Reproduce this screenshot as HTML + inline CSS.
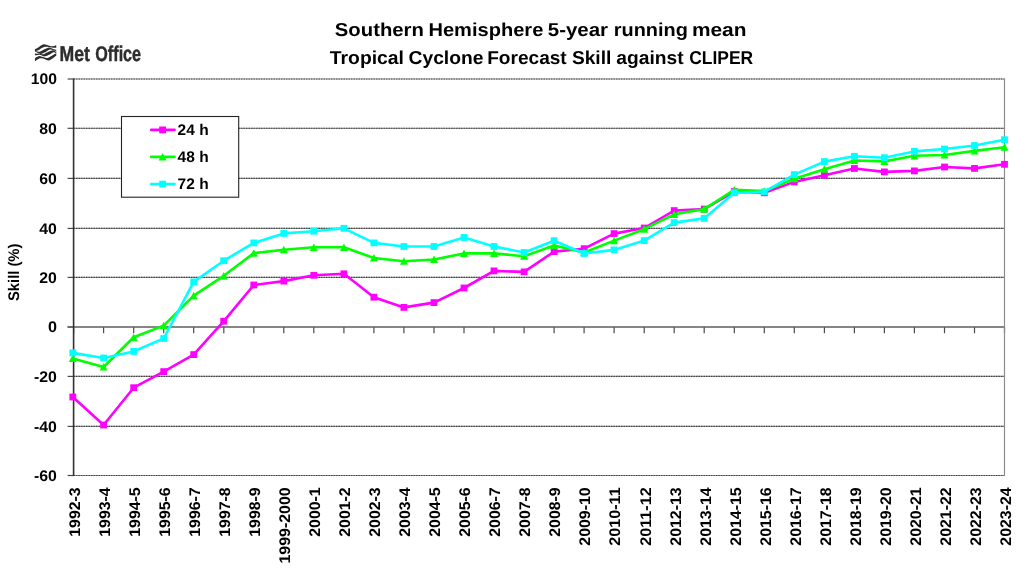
<!DOCTYPE html>
<html lang="en"><head><meta charset="utf-8"><title>Southern Hemisphere Tropical Cyclone Forecast Skill against CLIPER</title>
<style>html,body{margin:0;padding:0;background:#fff;}body{width:1024px;height:575px;overflow:hidden;}svg{display:block;}text{font-family:"Liberation Sans",sans-serif;font-weight:bold;fill:#000;text-rendering:geometricPrecision;}</style></head><body>
<svg width="1024" height="575" viewBox="0 0 1024 575">
<rect width="1024" height="575" fill="#fff"/>
<text y="36.3" font-size="18.7"><tspan x="334.82" textLength="89.04" lengthAdjust="spacingAndGlyphs">Southern</tspan> <tspan x="428.44" textLength="114.86" lengthAdjust="spacingAndGlyphs">Hemisphere</tspan> <tspan x="547.81" textLength="60.27" lengthAdjust="spacingAndGlyphs">5-year</tspan> <tspan x="613.74" textLength="74.13" lengthAdjust="spacingAndGlyphs">running</tspan> <tspan x="691.92" textLength="54.53" lengthAdjust="spacingAndGlyphs">mean</tspan></text>
<text y="64.2" font-size="18.7"><tspan x="329.89" textLength="74.04" lengthAdjust="spacingAndGlyphs">Tropical</tspan> <tspan x="408.57" textLength="74.88" lengthAdjust="spacingAndGlyphs">Cyclone</tspan> <tspan x="487.18" textLength="79.54" lengthAdjust="spacingAndGlyphs">Forecast</tspan> <tspan x="571.93" textLength="39.41" lengthAdjust="spacingAndGlyphs">Skill</tspan> <tspan x="616.29" textLength="67.29" lengthAdjust="spacingAndGlyphs">against</tspan> <tspan x="689.17" textLength="64.00" lengthAdjust="spacingAndGlyphs">CLIPER</tspan></text>
<g id="logo" fill="#2d2d2d">
<path d="M34.92 49.28 C35.28 49.11 36.38 48.67 37.11 48.25 C37.84 47.83 38.51 47.30 39.30 46.77 C40.09 46.24 41.06 45.47 41.85 45.06 C42.64 44.64 43.31 44.31 44.04 44.28 C44.77 44.25 45.50 44.65 46.23 44.87 C46.96 45.10 47.51 45.38 48.42 45.62 C49.34 45.86 50.73 46.24 51.71 46.32 C52.68 46.41 53.50 46.27 54.26 46.11 C55.02 45.94 55.94 45.46 56.27 45.33 L56.27 47.79 C55.94 47.79 55.02 47.79 54.26 47.75 C53.50 47.70 52.68 47.66 51.71 47.53 C50.73 47.40 49.34 47.11 48.42 46.99 C47.51 46.87 46.96 46.79 46.23 46.79 C45.50 46.79 44.77 46.81 44.04 47.02 C43.31 47.23 42.64 47.61 41.85 48.07 C41.06 48.53 40.09 49.34 39.30 49.78 C38.51 50.22 37.84 50.52 37.11 50.71 C36.38 50.90 35.28 50.89 34.92 50.92 Z"/>
<path d="M34.92 50.63 C35.35 50.77 36.65 51.26 37.47 51.43 C38.30 51.61 39.12 51.79 39.85 51.67 C40.58 51.55 41.09 51.10 41.85 50.71 C42.61 50.33 43.56 49.78 44.41 49.35 C45.26 48.93 46.17 48.48 46.96 48.16 C47.75 47.83 48.48 47.45 49.15 47.41 C49.82 47.37 50.31 47.66 50.98 47.93 C51.65 48.21 52.29 48.74 53.17 49.06 C54.05 49.39 55.75 49.75 56.27 49.89 L56.27 51.26 C55.75 51.10 54.05 50.55 53.17 50.27 C52.29 49.99 51.65 49.64 50.98 49.57 C50.31 49.51 49.82 49.61 49.15 49.87 C48.48 50.14 47.75 50.73 46.96 51.17 C46.17 51.61 45.26 52.10 44.41 52.53 C43.56 52.95 42.61 53.50 41.85 53.72 C41.09 53.95 40.58 54.04 39.85 53.86 C39.12 53.68 38.30 53.01 37.47 52.64 C36.65 52.26 35.35 51.79 34.92 51.62 Z"/>
<path d="M34.92 53.45 C35.22 53.48 36.01 53.60 36.74 53.64 C37.47 53.69 38.45 53.65 39.30 53.73 C40.15 53.82 41.12 54.08 41.85 54.17 C42.58 54.26 43.01 54.46 43.68 54.28 C44.35 54.10 45.08 53.50 45.87 53.09 C46.66 52.67 47.57 52.21 48.42 51.80 C49.27 51.39 50.25 50.91 50.98 50.64 C51.71 50.37 52.26 50.16 52.80 50.16 C53.35 50.16 53.68 50.34 54.26 50.65 C54.84 50.96 55.94 51.81 56.27 52.04 L56.27 53.13 C55.94 52.97 54.84 52.30 54.26 52.18 C53.68 52.07 53.35 52.21 52.80 52.46 C52.26 52.70 51.71 53.23 50.98 53.65 C50.25 54.07 49.27 54.57 48.42 54.97 C47.57 55.38 46.66 55.87 45.87 56.10 C45.08 56.33 44.35 56.48 43.68 56.36 C43.01 56.24 42.58 55.65 41.85 55.38 C41.12 55.10 40.15 54.75 39.30 54.72 C38.45 54.69 37.47 55.07 36.74 55.18 C36.01 55.28 35.22 55.33 34.92 55.37 Z"/>
<path d="M34.92 58.51 C35.22 58.28 36.01 57.50 36.74 57.10 C37.47 56.70 38.45 56.17 39.30 56.10 C40.15 56.03 41.00 56.47 41.85 56.69 C42.71 56.91 43.62 57.22 44.41 57.42 C45.20 57.62 45.93 57.82 46.60 57.88 C47.27 57.94 47.69 58.05 48.42 57.78 C49.15 57.52 50.13 56.80 50.98 56.29 C51.83 55.78 52.65 55.22 53.53 54.73 C54.41 54.24 55.81 53.59 56.27 53.36 L56.27 55.82 C55.81 56.14 54.41 57.13 53.53 57.74 C52.65 58.35 51.83 59.00 50.98 59.46 C50.13 59.93 49.15 60.42 48.42 60.52 C47.69 60.62 47.27 60.31 46.60 60.07 C45.93 59.82 45.20 59.35 44.41 59.06 C43.62 58.77 42.71 58.42 41.85 58.33 C41.00 58.25 40.15 58.26 39.30 58.56 C38.45 58.86 37.47 59.66 36.74 60.11 C36.01 60.56 35.22 61.06 34.92 61.25 Z"/>
<text y="60.9" font-size="21.3" style="fill:#2d2d2d;stroke:#2d2d2d;stroke-width:0.45px"><tspan x="59.6" textLength="30.4" lengthAdjust="spacingAndGlyphs">Met</tspan> <tspan x="95.3" textLength="45.8" lengthAdjust="spacingAndGlyphs">Office</tspan></text>
</g>
<g id="gridbase" stroke="#949494" stroke-width="1.15" fill="none">
<line x1="73.6" y1="79.00" x2="1004.5" y2="79.00"/>
<line x1="73.6" y1="128.30" x2="1004.5" y2="128.30"/>
<line x1="73.6" y1="178.40" x2="1004.5" y2="178.40"/>
<line x1="73.6" y1="228.40" x2="1004.5" y2="228.40"/>
<line x1="73.6" y1="277.40" x2="1004.5" y2="277.40"/>
<line x1="73.6" y1="376.40" x2="1004.5" y2="376.40"/>
<line x1="73.6" y1="426.40" x2="1004.5" y2="426.40"/>
<line x1="73.6" y1="475.50" x2="1004.5" y2="475.50"/>
</g>
<g id="grid" stroke="#3a3a3a" stroke-width="1.1" stroke-dasharray="1.25 1.25" fill="none">
<line x1="73.6" y1="79.00" x2="1004.5" y2="79.00"/>
<line x1="73.6" y1="128.30" x2="1004.5" y2="128.30"/>
<line x1="73.6" y1="178.40" x2="1004.5" y2="178.40"/>
<line x1="73.6" y1="228.40" x2="1004.5" y2="228.40"/>
<line x1="73.6" y1="277.40" x2="1004.5" y2="277.40"/>
<line x1="73.6" y1="376.40" x2="1004.5" y2="376.40"/>
<line x1="73.6" y1="426.40" x2="1004.5" y2="426.40"/>
<line x1="73.6" y1="475.50" x2="1004.5" y2="475.50"/>
</g>
<g id="ticks" stroke="#4a4a4a" stroke-width="1.2" fill="none">
<line x1="67.6" y1="79.00" x2="73.6" y2="79.00"/>
<line x1="67.6" y1="128.30" x2="73.6" y2="128.30"/>
<line x1="67.6" y1="178.40" x2="73.6" y2="178.40"/>
<line x1="67.6" y1="228.40" x2="73.6" y2="228.40"/>
<line x1="67.6" y1="277.40" x2="73.6" y2="277.40"/>
<line x1="67.6" y1="327.00" x2="73.6" y2="327.00"/>
<line x1="67.6" y1="376.40" x2="73.6" y2="376.40"/>
<line x1="67.6" y1="426.40" x2="73.6" y2="426.40"/>
<line x1="67.6" y1="475.50" x2="73.6" y2="475.50"/>
<line x1="73.6" y1="327.00" x2="73.6" y2="333.20"/>
<line x1="103.6" y1="327.00" x2="103.6" y2="333.20"/>
<line x1="133.7" y1="327.00" x2="133.7" y2="333.20"/>
<line x1="163.7" y1="327.00" x2="163.7" y2="333.20"/>
<line x1="193.7" y1="327.00" x2="193.7" y2="333.20"/>
<line x1="223.8" y1="327.00" x2="223.8" y2="333.20"/>
<line x1="253.8" y1="327.00" x2="253.8" y2="333.20"/>
<line x1="283.8" y1="327.00" x2="283.8" y2="333.20"/>
<line x1="313.8" y1="327.00" x2="313.8" y2="333.20"/>
<line x1="343.9" y1="327.00" x2="343.9" y2="333.20"/>
<line x1="373.9" y1="327.00" x2="373.9" y2="333.20"/>
<line x1="403.9" y1="327.00" x2="403.9" y2="333.20"/>
<line x1="434.0" y1="327.00" x2="434.0" y2="333.20"/>
<line x1="464.0" y1="327.00" x2="464.0" y2="333.20"/>
<line x1="494.0" y1="327.00" x2="494.0" y2="333.20"/>
<line x1="524.1" y1="327.00" x2="524.1" y2="333.20"/>
<line x1="554.1" y1="327.00" x2="554.1" y2="333.20"/>
<line x1="584.1" y1="327.00" x2="584.1" y2="333.20"/>
<line x1="614.1" y1="327.00" x2="614.1" y2="333.20"/>
<line x1="644.2" y1="327.00" x2="644.2" y2="333.20"/>
<line x1="674.2" y1="327.00" x2="674.2" y2="333.20"/>
<line x1="704.2" y1="327.00" x2="704.2" y2="333.20"/>
<line x1="734.3" y1="327.00" x2="734.3" y2="333.20"/>
<line x1="764.3" y1="327.00" x2="764.3" y2="333.20"/>
<line x1="794.3" y1="327.00" x2="794.3" y2="333.20"/>
<line x1="824.4" y1="327.00" x2="824.4" y2="333.20"/>
<line x1="854.4" y1="327.00" x2="854.4" y2="333.20"/>
<line x1="884.4" y1="327.00" x2="884.4" y2="333.20"/>
<line x1="914.4" y1="327.00" x2="914.4" y2="333.20"/>
<line x1="944.5" y1="327.00" x2="944.5" y2="333.20"/>
<line x1="974.5" y1="327.00" x2="974.5" y2="333.20"/>
<line x1="1004.5" y1="327.00" x2="1004.5" y2="333.20"/>
</g>
<line x1="67.6" y1="327.00" x2="1004.5" y2="327.00" stroke="#5e5e5e" stroke-width="1.6"/>
<line x1="73.6" y1="78.40" x2="73.6" y2="476.10" stroke="#303030" stroke-width="1.6"/>
<line x1="1004.5" y1="78.40" x2="1004.5" y2="476.10" stroke="#8c8c8c" stroke-width="1.2"/>
<text x="30.7" y="84.4" font-size="15.4" textLength="26.2" lengthAdjust="spacingAndGlyphs">100</text>
<text x="39.3" y="133.7" font-size="15.4" textLength="17.6" lengthAdjust="spacingAndGlyphs">80</text>
<text x="39.3" y="183.8" font-size="15.4" textLength="17.6" lengthAdjust="spacingAndGlyphs">60</text>
<text x="39.3" y="233.8" font-size="15.4" textLength="17.6" lengthAdjust="spacingAndGlyphs">40</text>
<text x="39.3" y="282.8" font-size="15.4" textLength="17.6" lengthAdjust="spacingAndGlyphs">20</text>
<text x="47.9" y="332.4" font-size="15.4" textLength="9.0" lengthAdjust="spacingAndGlyphs">0</text>
<text x="34.0" y="381.8" font-size="15.4" textLength="22.9" lengthAdjust="spacingAndGlyphs">-20</text>
<text x="34.0" y="431.8" font-size="15.4" textLength="22.9" lengthAdjust="spacingAndGlyphs">-40</text>
<text x="34.0" y="480.9" font-size="15.4" textLength="22.9" lengthAdjust="spacingAndGlyphs">-60</text>
<text transform="translate(18.5 301.0) rotate(-90)" font-size="15.4" textLength="57.4" lengthAdjust="spacingAndGlyphs">Skill (%)</text>
<text transform="translate(79.5 536.8) rotate(-90)" font-size="15.4" textLength="49.5" lengthAdjust="spacingAndGlyphs">1992-3</text>
<text transform="translate(109.5 536.8) rotate(-90)" font-size="15.4" textLength="49.5" lengthAdjust="spacingAndGlyphs">1993-4</text>
<text transform="translate(139.6 536.8) rotate(-90)" font-size="15.4" textLength="49.5" lengthAdjust="spacingAndGlyphs">1994-5</text>
<text transform="translate(169.7 536.8) rotate(-90)" font-size="15.4" textLength="49.5" lengthAdjust="spacingAndGlyphs">1995-6</text>
<text transform="translate(199.7 536.8) rotate(-90)" font-size="15.4" textLength="49.5" lengthAdjust="spacingAndGlyphs">1996-7</text>
<text transform="translate(229.8 536.8) rotate(-90)" font-size="15.4" textLength="49.5" lengthAdjust="spacingAndGlyphs">1997-8</text>
<text transform="translate(259.8 536.8) rotate(-90)" font-size="15.4" textLength="49.5" lengthAdjust="spacingAndGlyphs">1998-9</text>
<text transform="translate(289.8 563.5) rotate(-90)" font-size="15.4" textLength="76.2" lengthAdjust="spacingAndGlyphs">1999-2000</text>
<text transform="translate(319.9 536.8) rotate(-90)" font-size="15.4" textLength="49.5" lengthAdjust="spacingAndGlyphs">2000-1</text>
<text transform="translate(349.9 536.8) rotate(-90)" font-size="15.4" textLength="49.5" lengthAdjust="spacingAndGlyphs">2001-2</text>
<text transform="translate(380.0 536.8) rotate(-90)" font-size="15.4" textLength="49.5" lengthAdjust="spacingAndGlyphs">2002-3</text>
<text transform="translate(410.1 536.8) rotate(-90)" font-size="15.4" textLength="49.5" lengthAdjust="spacingAndGlyphs">2003-4</text>
<text transform="translate(440.1 536.8) rotate(-90)" font-size="15.4" textLength="49.5" lengthAdjust="spacingAndGlyphs">2004-5</text>
<text transform="translate(470.1 536.8) rotate(-90)" font-size="15.4" textLength="49.5" lengthAdjust="spacingAndGlyphs">2005-6</text>
<text transform="translate(500.2 536.8) rotate(-90)" font-size="15.4" textLength="49.5" lengthAdjust="spacingAndGlyphs">2006-7</text>
<text transform="translate(530.2 536.8) rotate(-90)" font-size="15.4" textLength="49.5" lengthAdjust="spacingAndGlyphs">2007-8</text>
<text transform="translate(560.3 536.8) rotate(-90)" font-size="15.4" textLength="49.5" lengthAdjust="spacingAndGlyphs">2008-9</text>
<text transform="translate(590.4 545.7) rotate(-90)" font-size="15.4" textLength="58.4" lengthAdjust="spacingAndGlyphs">2009-10</text>
<text transform="translate(620.4 545.7) rotate(-90)" font-size="15.4" textLength="58.4" lengthAdjust="spacingAndGlyphs">2010-11</text>
<text transform="translate(650.5 545.7) rotate(-90)" font-size="15.4" textLength="58.4" lengthAdjust="spacingAndGlyphs">2011-12</text>
<text transform="translate(680.5 545.7) rotate(-90)" font-size="15.4" textLength="58.4" lengthAdjust="spacingAndGlyphs">2012-13</text>
<text transform="translate(710.5 545.7) rotate(-90)" font-size="15.4" textLength="58.4" lengthAdjust="spacingAndGlyphs">2013-14</text>
<text transform="translate(740.6 545.7) rotate(-90)" font-size="15.4" textLength="58.4" lengthAdjust="spacingAndGlyphs">2014-15</text>
<text transform="translate(770.7 545.7) rotate(-90)" font-size="15.4" textLength="58.4" lengthAdjust="spacingAndGlyphs">2015-16</text>
<text transform="translate(800.7 545.7) rotate(-90)" font-size="15.4" textLength="58.4" lengthAdjust="spacingAndGlyphs">2016-17</text>
<text transform="translate(830.8 545.7) rotate(-90)" font-size="15.4" textLength="58.4" lengthAdjust="spacingAndGlyphs">2017-18</text>
<text transform="translate(860.8 545.7) rotate(-90)" font-size="15.4" textLength="58.4" lengthAdjust="spacingAndGlyphs">2018-19</text>
<text transform="translate(890.9 545.7) rotate(-90)" font-size="15.4" textLength="58.4" lengthAdjust="spacingAndGlyphs">2019-20</text>
<text transform="translate(920.9 545.7) rotate(-90)" font-size="15.4" textLength="58.4" lengthAdjust="spacingAndGlyphs">2020-21</text>
<text transform="translate(951.0 545.7) rotate(-90)" font-size="15.4" textLength="58.4" lengthAdjust="spacingAndGlyphs">2021-22</text>
<text transform="translate(981.0 545.7) rotate(-90)" font-size="15.4" textLength="58.4" lengthAdjust="spacingAndGlyphs">2022-23</text>
<text transform="translate(1011.1 545.7) rotate(-90)" font-size="15.4" textLength="58.4" lengthAdjust="spacingAndGlyphs">2023-24</text>
<g id="s24"><polyline points="72.8,397.0 103.6,425.0 133.7,387.7 163.7,371.6 193.7,354.6 223.8,321.2 253.8,285.0 283.8,281.1 313.8,275.3 343.9,273.8 373.9,297.2 403.9,307.4 434.0,302.6 464.0,288.0 494.0,270.9 524.1,271.9 554.1,251.6 584.1,248.7 614.1,233.6 644.2,228.0 674.2,210.6 704.2,209.1 734.3,191.6 764.3,192.8 794.3,181.9 824.4,175.3 854.4,168.5 884.4,171.9 914.4,170.9 944.5,167.0 974.5,168.4 1004.5,164.3" fill="none" stroke="#ff00ff" stroke-width="2.6" stroke-linejoin="round" stroke-linecap="round"/>
<rect x="69.4" y="393.6" width="6.8" height="6.8" fill="#ff00ff"/>
<rect x="100.2" y="421.6" width="6.8" height="6.8" fill="#ff00ff"/>
<rect x="130.3" y="384.3" width="6.8" height="6.8" fill="#ff00ff"/>
<rect x="160.3" y="368.2" width="6.8" height="6.8" fill="#ff00ff"/>
<rect x="190.3" y="351.2" width="6.8" height="6.8" fill="#ff00ff"/>
<rect x="220.3" y="317.8" width="6.8" height="6.8" fill="#ff00ff"/>
<rect x="250.4" y="281.6" width="6.8" height="6.8" fill="#ff00ff"/>
<rect x="280.4" y="277.7" width="6.8" height="6.8" fill="#ff00ff"/>
<rect x="310.4" y="271.9" width="6.8" height="6.8" fill="#ff00ff"/>
<rect x="340.5" y="270.4" width="6.8" height="6.8" fill="#ff00ff"/>
<rect x="370.5" y="293.8" width="6.8" height="6.8" fill="#ff00ff"/>
<rect x="400.5" y="304.0" width="6.8" height="6.8" fill="#ff00ff"/>
<rect x="430.6" y="299.2" width="6.8" height="6.8" fill="#ff00ff"/>
<rect x="460.6" y="284.6" width="6.8" height="6.8" fill="#ff00ff"/>
<rect x="490.6" y="267.5" width="6.8" height="6.8" fill="#ff00ff"/>
<rect x="520.7" y="268.5" width="6.8" height="6.8" fill="#ff00ff"/>
<rect x="550.7" y="248.2" width="6.8" height="6.8" fill="#ff00ff"/>
<rect x="580.7" y="245.3" width="6.8" height="6.8" fill="#ff00ff"/>
<rect x="610.7" y="230.2" width="6.8" height="6.8" fill="#ff00ff"/>
<rect x="640.8" y="224.6" width="6.8" height="6.8" fill="#ff00ff"/>
<rect x="670.8" y="207.2" width="6.8" height="6.8" fill="#ff00ff"/>
<rect x="700.8" y="205.7" width="6.8" height="6.8" fill="#ff00ff"/>
<rect x="730.9" y="188.2" width="6.8" height="6.8" fill="#ff00ff"/>
<rect x="760.9" y="189.4" width="6.8" height="6.8" fill="#ff00ff"/>
<rect x="790.9" y="178.5" width="6.8" height="6.8" fill="#ff00ff"/>
<rect x="821.0" y="171.9" width="6.8" height="6.8" fill="#ff00ff"/>
<rect x="851.0" y="165.1" width="6.8" height="6.8" fill="#ff00ff"/>
<rect x="881.0" y="168.5" width="6.8" height="6.8" fill="#ff00ff"/>
<rect x="911.0" y="167.5" width="6.8" height="6.8" fill="#ff00ff"/>
<rect x="941.1" y="163.6" width="6.8" height="6.8" fill="#ff00ff"/>
<rect x="971.1" y="165.0" width="6.8" height="6.8" fill="#ff00ff"/>
<rect x="1001.1" y="160.9" width="6.8" height="6.8" fill="#ff00ff"/>
</g>
<g id="s48"><polyline points="72.8,358.5 103.6,367.0 133.7,337.3 163.7,325.6 193.7,295.7 223.8,275.8 253.8,253.1 283.8,249.7 313.8,247.3 343.9,247.3 373.9,258.0 403.9,261.2 434.0,259.5 464.0,253.4 494.0,253.4 524.1,256.2 554.1,245.6 584.1,252.5 614.1,240.6 644.2,229.2 674.2,214.3 704.2,209.1 734.3,189.9 764.3,191.1 794.3,178.7 824.4,169.2 854.4,160.5 884.4,161.4 914.4,155.8 944.5,155.0 974.5,150.9 1004.5,147.2" fill="none" stroke="#00ff00" stroke-width="2.6" stroke-linejoin="round" stroke-linecap="round"/>
<path d="M72.8 354.6 L76.8 362.1 L68.8 362.1 Z" fill="#00ff00"/>
<path d="M103.6 363.1 L107.6 370.6 L99.6 370.6 Z" fill="#00ff00"/>
<path d="M133.7 333.4 L137.7 340.9 L129.7 340.9 Z" fill="#00ff00"/>
<path d="M163.7 321.7 L167.7 329.2 L159.7 329.2 Z" fill="#00ff00"/>
<path d="M193.7 291.8 L197.7 299.3 L189.7 299.3 Z" fill="#00ff00"/>
<path d="M223.8 271.9 L227.8 279.4 L219.8 279.4 Z" fill="#00ff00"/>
<path d="M253.8 249.2 L257.8 256.7 L249.8 256.7 Z" fill="#00ff00"/>
<path d="M283.8 245.8 L287.8 253.3 L279.8 253.3 Z" fill="#00ff00"/>
<path d="M313.8 243.4 L317.8 250.9 L309.8 250.9 Z" fill="#00ff00"/>
<path d="M343.9 243.4 L347.9 250.9 L339.9 250.9 Z" fill="#00ff00"/>
<path d="M373.9 254.1 L377.9 261.6 L369.9 261.6 Z" fill="#00ff00"/>
<path d="M403.9 257.3 L407.9 264.8 L399.9 264.8 Z" fill="#00ff00"/>
<path d="M434.0 255.6 L438.0 263.1 L430.0 263.1 Z" fill="#00ff00"/>
<path d="M464.0 249.5 L468.0 257.0 L460.0 257.0 Z" fill="#00ff00"/>
<path d="M494.0 249.5 L498.0 257.0 L490.0 257.0 Z" fill="#00ff00"/>
<path d="M524.1 252.3 L528.1 259.8 L520.1 259.8 Z" fill="#00ff00"/>
<path d="M554.1 241.7 L558.1 249.2 L550.1 249.2 Z" fill="#00ff00"/>
<path d="M584.1 248.6 L588.1 256.1 L580.1 256.1 Z" fill="#00ff00"/>
<path d="M614.1 236.7 L618.1 244.2 L610.1 244.2 Z" fill="#00ff00"/>
<path d="M644.2 225.3 L648.2 232.8 L640.2 232.8 Z" fill="#00ff00"/>
<path d="M674.2 210.4 L678.2 217.9 L670.2 217.9 Z" fill="#00ff00"/>
<path d="M704.2 205.2 L708.2 212.7 L700.2 212.7 Z" fill="#00ff00"/>
<path d="M734.3 186.0 L738.3 193.5 L730.3 193.5 Z" fill="#00ff00"/>
<path d="M764.3 187.2 L768.3 194.7 L760.3 194.7 Z" fill="#00ff00"/>
<path d="M794.3 174.8 L798.3 182.3 L790.3 182.3 Z" fill="#00ff00"/>
<path d="M824.4 165.3 L828.4 172.8 L820.4 172.8 Z" fill="#00ff00"/>
<path d="M854.4 156.6 L858.4 164.1 L850.4 164.1 Z" fill="#00ff00"/>
<path d="M884.4 157.5 L888.4 165.0 L880.4 165.0 Z" fill="#00ff00"/>
<path d="M914.4 151.9 L918.4 159.4 L910.4 159.4 Z" fill="#00ff00"/>
<path d="M944.5 151.1 L948.5 158.6 L940.5 158.6 Z" fill="#00ff00"/>
<path d="M974.5 147.0 L978.5 154.5 L970.5 154.5 Z" fill="#00ff00"/>
<path d="M1004.5 143.3 L1008.5 150.8 L1000.5 150.8 Z" fill="#00ff00"/>
</g>
<g id="s72"><polyline points="72.8,352.9 103.6,358.0 133.7,351.4 163.7,338.5 193.7,281.9 223.8,260.7 253.8,242.9 283.8,233.4 313.8,231.2 343.9,228.3 373.9,242.9 403.9,246.5 434.0,246.5 464.0,237.5 494.0,246.5 524.1,252.5 554.1,240.7 584.1,253.5 614.1,249.9 644.2,240.6 674.2,222.6 704.2,218.4 734.3,192.8 764.3,191.9 794.3,174.6 824.4,161.6 854.4,156.3 884.4,157.7 914.4,151.4 944.5,149.0 974.5,145.5 1004.5,139.7" fill="none" stroke="#00ffff" stroke-width="2.6" stroke-linejoin="round" stroke-linecap="round"/>
<rect x="69.4" y="349.5" width="6.8" height="6.8" fill="#00ffff"/>
<rect x="100.2" y="354.6" width="6.8" height="6.8" fill="#00ffff"/>
<rect x="130.3" y="348.0" width="6.8" height="6.8" fill="#00ffff"/>
<rect x="160.3" y="335.1" width="6.8" height="6.8" fill="#00ffff"/>
<rect x="190.3" y="278.5" width="6.8" height="6.8" fill="#00ffff"/>
<rect x="220.3" y="257.3" width="6.8" height="6.8" fill="#00ffff"/>
<rect x="250.4" y="239.5" width="6.8" height="6.8" fill="#00ffff"/>
<rect x="280.4" y="230.0" width="6.8" height="6.8" fill="#00ffff"/>
<rect x="310.4" y="227.8" width="6.8" height="6.8" fill="#00ffff"/>
<rect x="340.5" y="224.9" width="6.8" height="6.8" fill="#00ffff"/>
<rect x="370.5" y="239.5" width="6.8" height="6.8" fill="#00ffff"/>
<rect x="400.5" y="243.1" width="6.8" height="6.8" fill="#00ffff"/>
<rect x="430.6" y="243.1" width="6.8" height="6.8" fill="#00ffff"/>
<rect x="460.6" y="234.1" width="6.8" height="6.8" fill="#00ffff"/>
<rect x="490.6" y="243.1" width="6.8" height="6.8" fill="#00ffff"/>
<rect x="520.7" y="249.1" width="6.8" height="6.8" fill="#00ffff"/>
<rect x="550.7" y="237.3" width="6.8" height="6.8" fill="#00ffff"/>
<rect x="580.7" y="250.1" width="6.8" height="6.8" fill="#00ffff"/>
<rect x="610.7" y="246.5" width="6.8" height="6.8" fill="#00ffff"/>
<rect x="640.8" y="237.2" width="6.8" height="6.8" fill="#00ffff"/>
<rect x="670.8" y="219.2" width="6.8" height="6.8" fill="#00ffff"/>
<rect x="700.8" y="215.0" width="6.8" height="6.8" fill="#00ffff"/>
<rect x="730.9" y="189.4" width="6.8" height="6.8" fill="#00ffff"/>
<rect x="760.9" y="188.5" width="6.8" height="6.8" fill="#00ffff"/>
<rect x="790.9" y="171.2" width="6.8" height="6.8" fill="#00ffff"/>
<rect x="821.0" y="158.2" width="6.8" height="6.8" fill="#00ffff"/>
<rect x="851.0" y="152.9" width="6.8" height="6.8" fill="#00ffff"/>
<rect x="881.0" y="154.3" width="6.8" height="6.8" fill="#00ffff"/>
<rect x="911.0" y="148.0" width="6.8" height="6.8" fill="#00ffff"/>
<rect x="941.1" y="145.6" width="6.8" height="6.8" fill="#00ffff"/>
<rect x="971.1" y="142.1" width="6.8" height="6.8" fill="#00ffff"/>
<rect x="1001.1" y="136.3" width="6.8" height="6.8" fill="#00ffff"/>
</g>
<rect x="121.5" y="116.5" width="117.2" height="80.7" fill="#fff" stroke="#242424" stroke-width="1.1"/>
<line x1="151.2" y1="129.9" x2="174.6" y2="129.9" stroke="#ff00ff" stroke-width="2.6" stroke-linecap="round"/>
<rect x="159.2" y="126.5" width="6.8" height="6.8" fill="#ff00ff"/>
<text x="177.6" y="134.6" font-size="15.4" textLength="31" lengthAdjust="spacingAndGlyphs">24 h</text>
<line x1="151.2" y1="156.9" x2="174.6" y2="156.9" stroke="#00ff00" stroke-width="2.6" stroke-linecap="round"/>
<path d="M162.6 153.0 L166.6 160.5 L158.6 160.5 Z" fill="#00ff00"/>
<text x="177.6" y="161.6" font-size="15.4" textLength="31" lengthAdjust="spacingAndGlyphs">48 h</text>
<line x1="151.2" y1="184.1" x2="174.6" y2="184.1" stroke="#00ffff" stroke-width="2.6" stroke-linecap="round"/>
<rect x="159.2" y="180.7" width="6.8" height="6.8" fill="#00ffff"/>
<text x="177.6" y="188.6" font-size="15.4" textLength="31" lengthAdjust="spacingAndGlyphs">72 h</text>
</svg></body></html>
